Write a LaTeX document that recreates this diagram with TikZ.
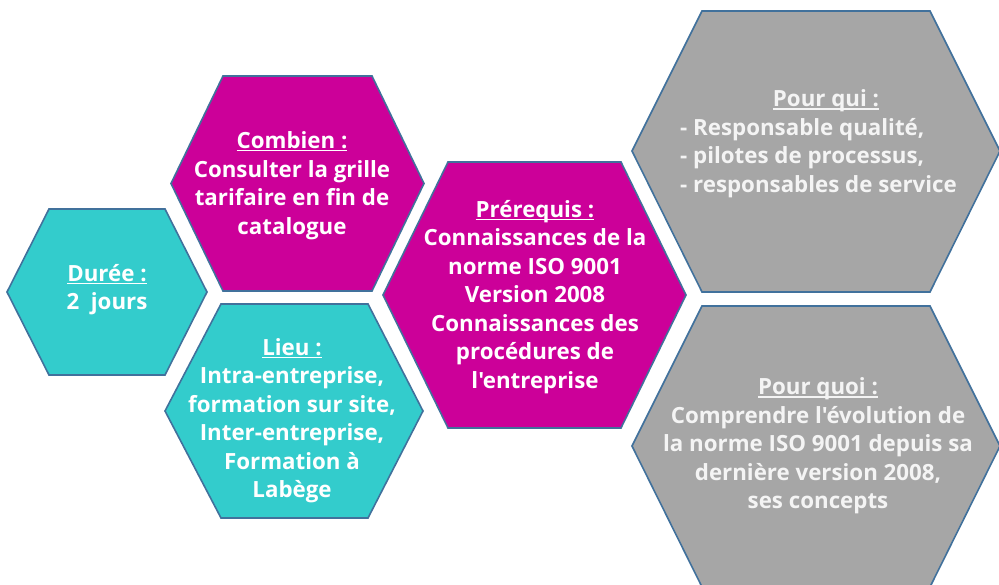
\documentclass[tikz,border=0pt]{standalone}
\usepackage{fontspec}
\setmainfont{Open Sans}[BoldFont={* Bold}, Ligatures=TeXOff]
\definecolor{hcyan}{HTML}{33CCCC}
\definecolor{hmag}{HTML}{CC0099}
\definecolor{hgrey}{HTML}{A6A6A6}
\definecolor{hline}{HTML}{41719C}
\definecolor{gtext}{HTML}{F4F4F4}
\newcommand\myul[1]{\setbox0\hbox{#1}\rlap{\rule[-2.8pt]{\wd0}{1.3pt}}\box0}
\tikzset{
  hexbase/.style={draw=hline, line width=1.6pt, line join=miter},
  hexcyan/.style={hexbase, fill=hcyan},
  hexmag/.style={hexbase, fill=hmag},
  hexgrey/.style={hexbase, fill=hgrey},
  txt/.style={text=white, font=\bfseries\fontsize{22.3}{28.5}\selectfont, align=center, inner sep=0pt},
  gtxt/.style={txt, text=gtext},
}
\begin{document}
\begin{tikzpicture}[x=1pt,y=-1pt]
\useasboundingbox (0,0) rectangle (999,585);
% hexagons
\draw[hexcyan] (7,292) -- (49,209) -- (165,209) -- (207,292) -- (165,375) -- (49,375) -- cycle;
\draw[hexmag] (171,183.5) -- (223,76) -- (372,76) -- (424,183.5) -- (372,291) -- (223,291) -- cycle;
\draw[hexcyan] (165,411) -- (221,304) -- (368,304) -- (423,411) -- (368,518) -- (221,518) -- cycle;
\draw[hexmag] (383,295) -- (448,162) -- (621,162) -- (686,295) -- (621,428) -- (448,428) -- cycle;
\draw[hexgrey] (632,151) -- (702,11) -- (930,11) -- (1000,151) -- (930,292) -- (702,292) -- cycle;
\draw[hexgrey] (632,446) -- (702,306) -- (930,306) -- (1000,446) -- (930,587) -- (702,587) -- cycle;
% texts
\node[txt] (duree) at (107,289.5) {\myul{Durée :}\\2\ \ jours};
\node[txt] (combien) at (292,185.5) {\myul{Combien :}\\Consulter la grille\\tarifaire en fin de\\catalogue};
\node[txt] (lieu) at (292,420.5) {\myul{Lieu :}\\Intra-entreprise,\\formation sur site,\\Inter-entreprise,\\Formation à\\Labège};
\node[txt] (prereq) at (535,297) {\myul{Prérequis :}\\Connaissances de la\\norme ISO 9001\\Version 2008\\Connaissances des\\procédures de\\l'entreprise};
\node[gtxt, anchor=base] (pourqui) at (826,107) {\myul{Pour qui :}};
\node[gtxt, align=left, anchor=west] (qui) at (680,158) {- Responsable qualité,\\- pilotes de processus,\\- responsables de service};
\node[gtxt] (pourquoi) at (818,446) {\myul{Pour quoi :}\\Comprendre l'évolution de\\la norme ISO 9001 depuis sa\\dernière version 2008,\\ses concepts};
\end{tikzpicture}
\end{document}
